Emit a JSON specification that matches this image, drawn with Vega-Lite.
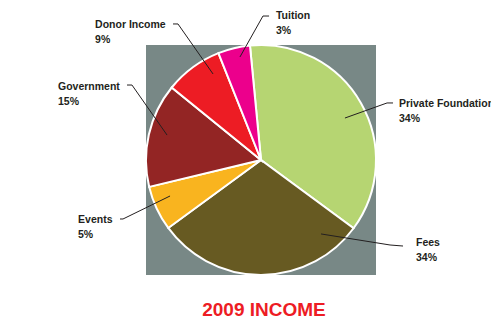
{
  "$schema": "https://vega.github.io/schema/vega-lite/v6.json",
  "width": 230,
  "height": 230,
  "autosize": "none",
  "padding": {"left": 146, "top": 45, "right": 115, "bottom": 44},
  "background": "white",
  "config": {"view": {"fill": "#788886", "stroke": null}},
  "title": {
    "text": "2009 INCOME",
    "orient": "bottom",
    "anchor": "middle",
    "baseline": "alphabetic",
    "offset": 37,
    "dx": 3,
    "font": "Liberation Sans",
    "fontWeight": "bold",
    "fontSize": 19,
    "color": "#ed1c24"
  },
  "datasets": {
    "slices": [
      {"source": "Private Foundation", "share": 36.6, "rank": 1},
      {"source": "Fees", "share": 29.8, "rank": 2},
      {"source": "Events", "share": 6.3, "rank": 3},
      {"source": "Government", "share": 14.6, "rank": 4},
      {"source": "Donor Income", "share": 8.1, "rank": 5},
      {"source": "Tuition", "share": 4.5, "rank": 6}
    ],
    "labels": [
      {"source": "Private Foundation", "pct": "34%", "u": 1.2, "v": 0.461},
      {"source": "Fees", "pct": "34%", "u": 1.348, "v": -0.748},
      {"source": "Events", "pct": "5%", "u": -1.591, "v": -0.548},
      {"source": "Government", "pct": "15%", "u": -1.765, "v": 0.609},
      {"source": "Donor Income", "pct": "9%", "u": -1.443, "v": 1.148},
      {"source": "Tuition", "pct": "3%", "u": 0.13, "v": 1.226}
    ],
    "leaders": [
      {"source": "Tuition", "pt": 1, "u": -0.183, "v": 0.896},
      {"source": "Tuition", "pt": 2, "u": 0.017, "v": 1.252},
      {"source": "Tuition", "pt": 3, "u": 0.07, "v": 1.252},
      {"source": "Donor Income", "pt": 1, "u": -0.417, "v": 0.748},
      {"source": "Donor Income", "pt": 2, "u": -0.722, "v": 1.183},
      {"source": "Donor Income", "pt": 3, "u": -0.765, "v": 1.183},
      {"source": "Government", "pt": 1, "u": -0.817, "v": 0.217},
      {"source": "Government", "pt": 2, "u": -1.122, "v": 0.652},
      {"source": "Government", "pt": 3, "u": -1.165, "v": 0.652},
      {"source": "Events", "pt": 1, "u": -0.791, "v": -0.313},
      {"source": "Events", "pt": 2, "u": -1.2, "v": -0.513},
      {"source": "Events", "pt": 3, "u": -1.226, "v": -0.513},
      {"source": "Private Foundation", "pt": 1, "u": 0.73, "v": 0.365},
      {"source": "Private Foundation", "pt": 2, "u": 1.096, "v": 0.496},
      {"source": "Private Foundation", "pt": 3, "u": 1.148, "v": 0.496},
      {"source": "Fees", "pt": 1, "u": 0.522, "v": -0.643},
      {"source": "Fees", "pt": 2, "u": 1.122, "v": -0.739},
      {"source": "Fees", "pt": 3, "u": 1.235, "v": -0.748}
    ]
  },
  "layer": [
    {
      "data": {"name": "slices"},
      "mark": {"type": "arc", "radius": 115, "stroke": "white", "strokeWidth": 2},
      "encoding": {
        "theta": {"field": "share", "type": "quantitative", "stack": true, "scale": {"range": [-0.096, 6.187]}},
        "color": {
          "field": "source",
          "type": "nominal",
          "scale": {
            "domain": ["Private Foundation", "Fees", "Events", "Government", "Donor Income", "Tuition"],
            "range": ["#b6d572", "#675a22", "#f9b41f", "#932524", "#ed1c24", "#ec008c"]
          },
          "legend": null
        },
        "order": {"field": "rank", "type": "quantitative"}
      }
    },
    {
      "data": {"name": "leaders"},
      "mark": {"type": "line", "color": "#231f20", "strokeWidth": 1},
      "encoding": {
        "x": {"field": "u", "type": "quantitative", "scale": {"domain": [-1, 1], "nice": false, "zero": false}, "axis": null},
        "y": {"field": "v", "type": "quantitative", "scale": {"domain": [-1, 1], "nice": false, "zero": false}, "axis": null},
        "detail": {"field": "source", "type": "nominal"},
        "order": {"field": "pt", "type": "quantitative"}
      }
    },
    {
      "data": {"name": "labels"},
      "mark": {"type": "text", "align": "left", "baseline": "alphabetic", "font": "Liberation Sans", "fontWeight": "bold", "fontSize": 10.5, "color": "#231f20"},
      "encoding": {
        "x": {"field": "u", "type": "quantitative"},
        "y": {"field": "v", "type": "quantitative"},
        "text": {"field": "source", "type": "nominal"}
      }
    },
    {
      "data": {"name": "labels"},
      "mark": {"type": "text", "align": "left", "baseline": "alphabetic", "dy": 15, "font": "Liberation Sans", "fontWeight": "bold", "fontSize": 10.5, "color": "#231f20"},
      "encoding": {
        "x": {"field": "u", "type": "quantitative"},
        "y": {"field": "v", "type": "quantitative"},
        "text": {"field": "pct", "type": "nominal"}
      }
    }
  ]
}
